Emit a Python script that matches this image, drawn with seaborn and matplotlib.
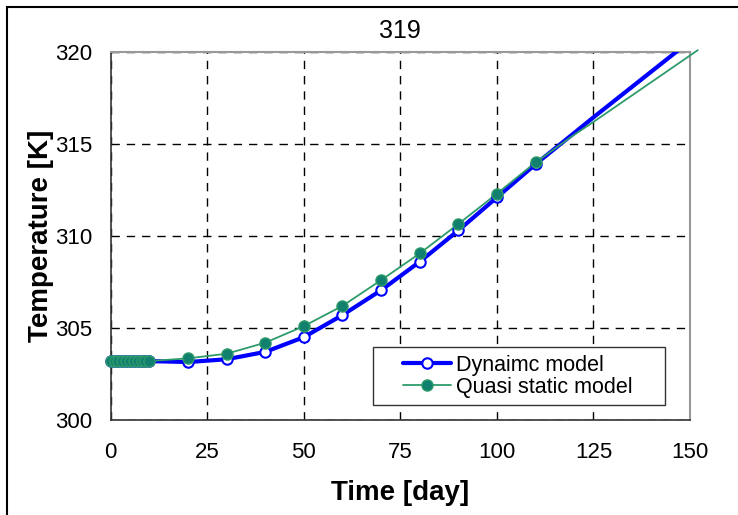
import pandas as pd
import numpy as np
import matplotlib.pyplot as plt
import seaborn as sns

# Marker points (days)
marker_days = [0, 1, 2, 3, 4, 5, 6, 7, 8, 9, 10, 20, 30, 40, 50, 60, 70, 80, 90, 100, 110]
dyn_temp = [303.2, 303.2, 303.2, 303.2, 303.2, 303.2, 303.2, 303.2, 303.2, 303.2, 303.2,
            303.15, 303.3, 303.7, 304.5, 305.7, 307.05, 308.6, 310.3, 312.1, 313.9]
qs_temp = [303.2, 303.2, 303.2, 303.2, 303.2, 303.2, 303.2, 303.2, 303.2, 303.2, 303.2,
           303.35, 303.6, 304.2, 305.1, 306.2, 307.6, 309.05, 310.65, 312.3, 314.0]

# Line continuation beyond the last marker
ext_days_dyn = [120, 125, 150]
ext_dyn = [315.6, 316.45, 320.6]
ext_days_qs = [120, 125, 152]
ext_qs = [315.5, 316.2, 320.1]

blue = '#0000ff'
green = '#2e9b6b'
teal = '#12806e'


def main():
    sns.set_style('white')
    plt.rcParams['font.family'] = ['Liberation Sans', 'DejaVu Sans']
    plt.rcParams['text.color'] = 'black'
    plt.rcParams['axes.labelcolor'] = 'black'
    plt.rcParams['xtick.color'] = 'black'
    plt.rcParams['ytick.color'] = 'black'

    fig = plt.figure(figsize=(7.38, 5.15), dpi=100)
    ax = fig.add_axes([0.150, 0.1845, 0.785, 0.7145])

    df_dyn = pd.DataFrame({'day': marker_days + ext_days_dyn, 'temp': dyn_temp + ext_dyn})
    df_qs = pd.DataFrame({'day': marker_days + ext_days_qs, 'temp': qs_temp + ext_qs})
    mk_dyn = pd.DataFrame({'day': marker_days, 'temp': dyn_temp})
    mk_qs = pd.DataFrame({'day': marker_days, 'temp': qs_temp})

    # lines
    sns.lineplot(data=df_dyn, x='day', y='temp', ax=ax, color=blue, lw=3, zorder=3)
    sns.lineplot(data=df_qs, x='day', y='temp', ax=ax, color=green, lw=1.3, zorder=4, clip_on=False)
    # markers
    ax.plot(mk_dyn['day'], mk_dyn['temp'], ls='none', marker='o', ms=7.5, mfc='white',
            mec=blue, mew=1.5, zorder=5, clip_on=False)
    ax.plot(mk_qs['day'], mk_qs['temp'], ls='none', marker='o', ms=8, mfc=teal,
            mec=green, mew=1, zorder=6, clip_on=False)

    ax.set_xlim(0, 150)
    ax.set_ylim(300, 320)
    ax.set_xticks(np.arange(0, 151, 25))
    ax.set_yticks(np.arange(300, 321, 5))
    ax.grid(True, color='black', ls=(0, (6, 5)), lw=1)
    ax.set_axisbelow(True)

    for side in ['top', 'right']:
        ax.spines[side].set_color('#999999')
        ax.spines[side].set_linewidth(1.5)
    for side in ['left', 'bottom']:
        ax.spines[side].set_color('#333333')
        ax.spines[side].set_linewidth(1.2)
    ax.tick_params(axis='both', direction='inout', length=10, width=1, labelsize=16, color='#333333')
    ax.tick_params(axis='x', pad=11)
    ax.tick_params(axis='y', pad=8)

    ax.set_title('319', fontsize=18, pad=10)
    ax.set_xlabel('Time [day]', fontsize=20, fontweight='bold', labelpad=12)
    ax.set_ylabel('Temperature [K]', fontsize=20, fontweight='bold', labelpad=1)

    # legend box drawn by hand (wide side padding as in the original)
    ax.add_patch(plt.Rectangle((0.4525, 0.041), 0.5045, 0.157, transform=ax.transAxes,
                               fill=True, facecolor='white', edgecolor='#333333', lw=1, zorder=7))
    handles = [
        plt.Line2D([], [], color=blue, lw=3, marker='o', ms=7.5, mfc='white', mec=blue, mew=1.5),
        plt.Line2D([], [], color=green, lw=1.3, marker='o', ms=8, mfc=teal, mec=green),
    ]
    leg = ax.legend(handles, ['Dynaimc model', 'Quasi static model'], loc='upper left',
                    bbox_to_anchor=(0.505, 0.177), fontsize=15.5, frameon=False,
                    borderpad=0, labelspacing=0.05, handlelength=2.2, handletextpad=0.25,
                    borderaxespad=0)
    leg.set_zorder(8)

    # outer figure border
    fig.patches.append(plt.Rectangle((0.009, -0.01), 1.2, 0.997, transform=fig.transFigure,
                                     fill=False, edgecolor='black', lw=1.5))

    fig.savefig('out.png', dpi=100)


if __name__ == "__main__":
    main()
